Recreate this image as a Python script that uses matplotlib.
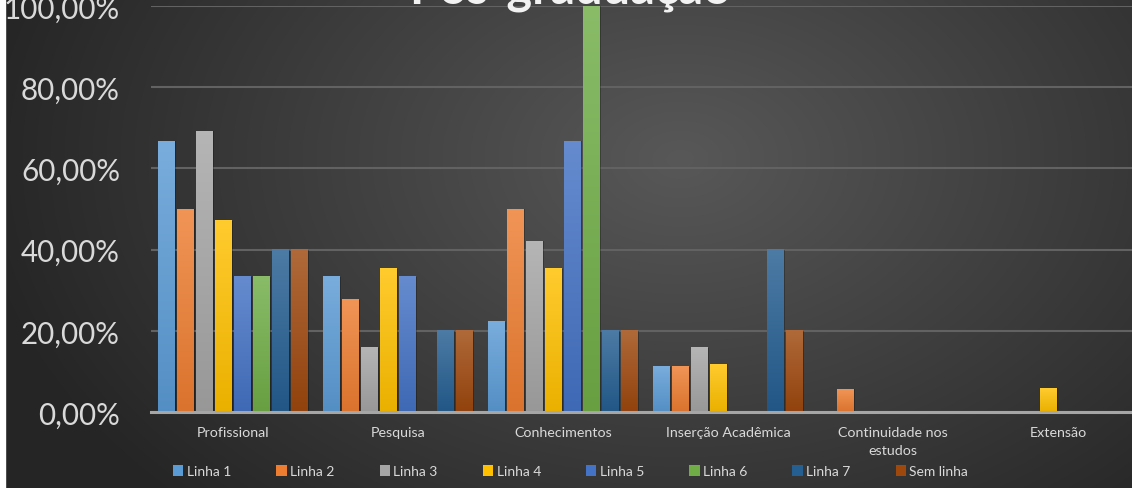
import numpy as np
import matplotlib
matplotlib.use("Agg")
import matplotlib.pyplot as plt
from matplotlib.patches import Rectangle, Patch
from matplotlib.colors import to_rgb
from matplotlib.ticker import FuncFormatter

# ---- data ----
categories = ["Profissional", "Pesquisa", "Conhecimentos", "Inserção Acadêmica",
              "Continuidade nos\nestudos", "Extensão"]
series_names = ["Linha 1", "Linha 2", "Linha 3", "Linha 4", "Linha 5", "Linha 6", "Linha 7", "Sem linha"]
linha1 = [0.667, 0.333, 0.222, 0.111, 0.0, 0.0]
linha2 = [0.500, 0.276, 0.500, 0.111, 0.056, 0.0]
linha3 = [0.692, 0.158, 0.421, 0.158, 0.0, 0.0]
linha4 = [0.471, 0.353, 0.353, 0.118, 0.0, 0.059]
linha5 = [0.333, 0.333, 0.667, 0.0, 0.0, 0.0]
linha6 = [0.333, 0.0, 1.000, 0.0, 0.0, 0.0]
linha7 = [0.400, 0.200, 0.200, 0.400, 0.0, 0.0]
sem_linha = [0.400, 0.200, 0.200, 0.200, 0.0, 0.0]
series_values = [linha1, linha2, linha3, linha4, linha5, linha6, linha7, sem_linha]
colors = ["#5B9BD5", "#ED7D31", "#A5A5A5", "#FFC000", "#4472C4", "#70AD47", "#255E91", "#9E480E"]
yticks = [0, 0.2, 0.4, 0.6, 0.8, 1.0]

W, H = 1132, 489
fig = plt.figure(figsize=(W / 100, H / 100), dpi=100)

# ---- background gradient ----
bg = fig.add_axes([0, 0, 1, 1], zorder=-10)
yy, xx = np.mgrid[0:H, 0:W]
d = np.sqrt(((xx - 680) / 700.0) ** 2 + ((yy - 160) / 480.0) ** 2)
t = np.clip(d, 0, 1)[..., None]
c_in = np.array(to_rgb("#585858"))
c_out = np.array(to_rgb("#262626"))
img = c_in * (1 - t) + c_out * t
bg.imshow(img, extent=[0, 1, 0, 1], aspect="auto", origin="upper")
bg.set_xlim(0, 1); bg.set_ylim(0, 1)
bg.axis("off")
bg.add_patch(Rectangle((0, 0), 5 / W, 1, color="white", transform=bg.transAxes, zorder=5))

# ---- main axes ----
left = 150.5 / W
bottom = (H - 413) / H
top = (H - 7) / H
ax = fig.add_axes([left, bottom, 990 / W, top - bottom])
ax.set_facecolor("none")

step = 19 / 165
bw = 17 / 165
n = len(series_names)


def lighten(c, f):
    c = np.array(to_rgb(c))
    return c + (1 - c) * f


def darken(c, f):
    c = np.array(to_rgb(c))
    return c * (1 - f)


for i, (vals, col) in enumerate(zip(series_values, colors)):
    ctop = lighten(col, 0.18)
    cbot = darken(col, 0.08)
    for j, v in enumerate(vals):
        if v <= 0:
            continue
        x0 = j + (i - (n - 1) / 2) * step - bw / 2
        # shadow
        ax.add_patch(Rectangle((x0 + 0.006, 0), bw, v, color="black", alpha=0.25, lw=0, zorder=2))
        g = np.linspace(0, 1, 64)[:, None, None]
        grad = ctop * (1 - g) + cbot * g
        ax.imshow(grad, extent=[x0, x0 + bw, 0, v], aspect="auto", origin="upper",
                  zorder=3, interpolation="bilinear")

ax.set_xlim(-0.5, len(categories) - 0.5)
ax.set_ylim(0, 1.0)
ax.set_yticks(yticks)
ax.yaxis.set_major_formatter(FuncFormatter(lambda v, p: f"{v * 100:.2f}%".replace(".", ",")))
ax.set_xticks(range(len(categories)))
ax.set_xticklabels(categories)
ax.grid(axis="y", color="#626262", lw=1.5, zorder=0)
ax.set_axisbelow(True)
for s in ["left", "right", "top"]:
    ax.spines[s].set_visible(False)
ax.spines["bottom"].set_color("#a6a6a6")
ax.spines["bottom"].set_linewidth(2.2)
ax.spines["bottom"].set_zorder(4)
ax.tick_params(axis="both", length=0)
ax.tick_params(axis="y", pad=22, labelsize=21.3, labelcolor="#d9d9d9")
ax.tick_params(axis="x", pad=10, labelsize=10.3, labelcolor="#d9d9d9")
for lab in ax.get_yticklabels() + ax.get_xticklabels():
    lab.set_family("Lato")
for lab in ax.get_xticklabels():
    lab.set_linespacing(1.6)
    lab.set_verticalalignment("top")

# ---- legend ----
handles = [Patch(facecolor=c, edgecolor="none") for c in colors]
leg = fig.legend(handles, series_names, loc="center left", bbox_to_anchor=(173 / W, (H - 472) / H),
                 ncol=8, frameon=False, handlelength=0.75, handleheight=0.9, handletextpad=0.25,
                 columnspacing=3.24, prop={"family": "Lato", "size": 10}, borderpad=0, borderaxespad=0)
for txt in leg.get_texts():
    txt.set_color("#d9d9d9")

# ---- title (cut off at top) ----
fig.text(570 / W, (H - 3) / H, "Pós-graduação", ha="center", va="baseline",
         fontsize=35, fontweight="bold", color="#f2f2f2", family="Lato")

fig.savefig("out.png", dpi=100)
